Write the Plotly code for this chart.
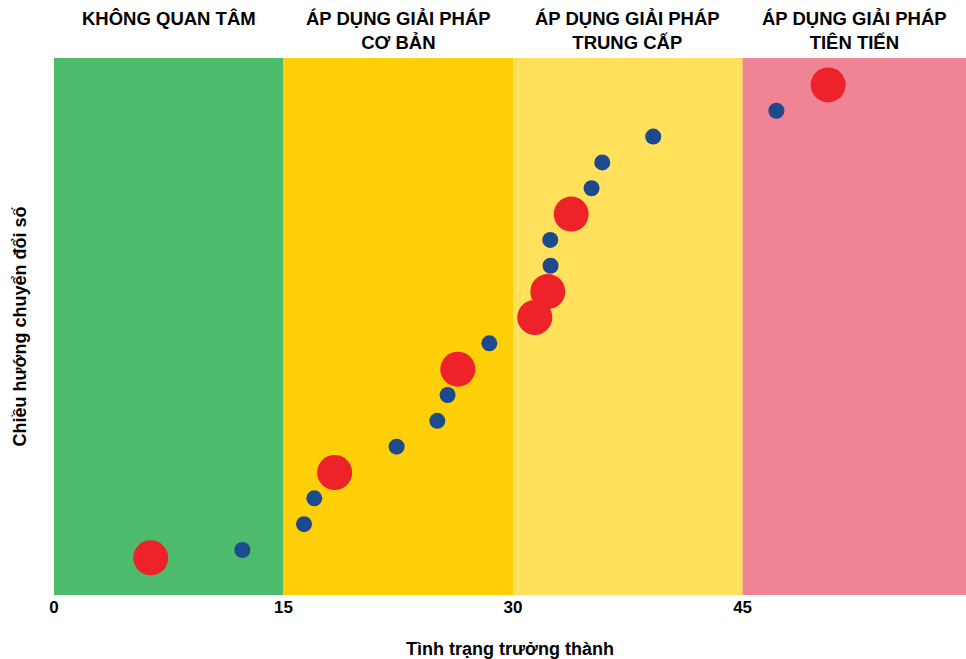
import plotly.graph_objects as go

# Các giai đoạn (dải nền)
stage_labels = [
    "KHÔNG QUAN TÂM",
    "ÁP DỤNG GIẢI PHÁP<br>CƠ BẢN",
    "ÁP DỤNG GIẢI PHÁP<br>TRUNG CẤP",
    "ÁP DỤNG GIẢI PHÁP<br>TIÊN TIẾN",
]
stage_edges = [0, 15, 30, 45, 59.6]
stage_colors = ["#4cbb6b", "#ffcf08", "#ffe15c", "#ee8494"]

# Doanh nghiệp (chấm xanh)
blue_x = [12.31, 16.34, 17.01, 22.39, 25.05, 25.72, 28.45, 32.45, 32.43, 35.13, 35.83, 39.16, 47.21]
blue_y = [1, 2, 3, 5, 6, 7, 9, 12, 13, 15, 16, 17, 18]

# Điểm nổi bật (chấm đỏ)
red_x = [6.32, 18.34, 26.39, 31.42, 32.27, 33.80, 50.59]
red_y = [0.7, 4, 8, 10, 11, 14, 19]

x_ticks = [0, 15, 30, 45]

fig = go.Figure()

for i, label in enumerate(stage_labels):
    x0, x1 = stage_edges[i], stage_edges[i + 1]
    fig.add_shape(
        type="rect",
        xref="x",
        yref="paper",
        x0=x0,
        x1=x1,
        y0=0,
        y1=1,
        fillcolor=stage_colors[i],
        line_width=0,
        layer="below",
    )
    fig.add_annotation(
        x=(x0 + x1) / 2,
        y=1,
        xref="x",
        yref="paper",
        yanchor="top",
        yshift=52,
        text="<b>" + label + "</b>",
        showarrow=False,
        font=dict(family="Liberation Sans, Arial", size=18.5, color="#000000"),
    )

fig.add_trace(
    go.Scatter(
        x=blue_x,
        y=blue_y,
        mode="markers",
        marker=dict(color="#1d4a8c", size=16, line_width=0),
        hoverinfo="x+y",
    )
)
fig.add_trace(
    go.Scatter(
        x=red_x,
        y=red_y,
        mode="markers",
        marker=dict(color="#ee2229", size=35, line_width=0),
        hoverinfo="x+y",
    )
)

fig.update_layout(
    width=966,
    height=659,
    margin=dict(l=54, r=0, t=58, b=64),
    plot_bgcolor="white",
    paper_bgcolor="white",
    showlegend=False,
    font=dict(family="Liberation Sans, Arial", color="#000000"),
)
fig.update_xaxes(
    range=[0, 59.6],
    tickvals=x_ticks,
    ticktext=["<b>%d</b>" % t for t in x_ticks],
    tickfont=dict(size=17),
    showgrid=False,
    zeroline=False,
    showline=False,
    ticks="",
    automargin=False,
    title=dict(text="<b>Tình trạng trưởng thành</b>", font=dict(size=18), standoff=27),
)
fig.update_yaxes(
    range=[-0.74, 20.04],
    showticklabels=False,
    showgrid=False,
    zeroline=False,
    showline=False,
    ticks="",
    automargin=False,
    title=dict(text="<b>Chiều hướng chuyển đổi số</b>", font=dict(size=18), standoff=21),
)

fig.write_html(
    "out.html",
    config={"displayModeBar": False},
    post_script="document.body.style.margin='0';document.body.style.overflow='hidden';",
)
